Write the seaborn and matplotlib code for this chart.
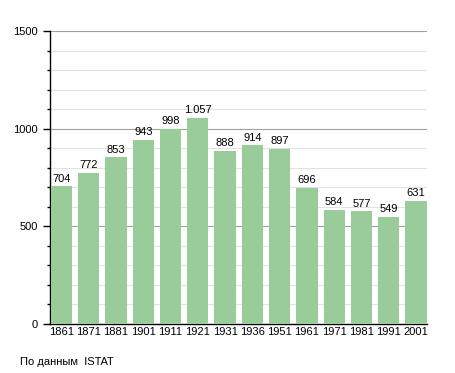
import matplotlib
matplotlib.use("Agg")
import matplotlib.pyplot as plt
import seaborn as sns
import pandas as pd
from matplotlib.ticker import MultipleLocator

# =========================
# DATA
# =========================
years = ["1861", "1871", "1881", "1901", "1911", "1921", "1931",
         "1936", "1951", "1961", "1971", "1981", "1991", "2001"]
population = [704, 772, 853, 943, 998, 1057, 888, 914, 897, 696, 584, 577, 549, 631]
labels = ["704", "772", "853", "943", "998", "1.057", "888", "914", "897",
          "696", "584", "577", "549", "631"]

df = pd.DataFrame({"year": years, "pop": population})

# =========================
# PLOT
# =========================
sns.set_style("white")
plt.rcParams["font.family"] = ["Liberation Sans", "DejaVu Sans"]
plt.rcParams["text.color"] = "black"
plt.rcParams["xtick.color"] = "black"
plt.rcParams["ytick.color"] = "black"

fig = plt.figure(figsize=(4.55, 3.73), dpi=100)
ax = fig.add_axes([50 / 455, 1 - 324 / 373, 377 / 455, 293 / 373])

sns.barplot(x="year", y="pop", data=df, color="#99cc99", width=0.78,
            saturation=1, ax=ax, zorder=3, edgecolor="none")

ax.bar_label(ax.containers[0], labels=labels, padding=2, fontsize=8,
             color="black")

ax.set_ylim(0, 1500)
ax.set_xlim(-0.42, 13.4)
ax.yaxis.set_major_locator(MultipleLocator(500))
ax.yaxis.set_minor_locator(MultipleLocator(100))
ax.set_axisbelow(True)
ax.grid(axis="y", which="major", color="#a0a0a0", linewidth=0.8, zorder=0)
ax.grid(axis="y", which="minor", color="#e2e2e2", linewidth=0.8, zorder=0)

for s in ["top", "right"]:
    ax.spines[s].set_visible(False)
for s in ["left", "bottom"]:
    ax.spines[s].set_color("black")
    ax.spines[s].set_linewidth(1)

ax.tick_params(axis="y", which="major", length=5, width=1, left=True,
               labelsize=8, pad=4, labelcolor="black")
ax.tick_params(axis="y", which="minor", length=2.5, width=1, left=True)
ax.tick_params(axis="x", length=0, labelsize=8, pad=2, labelcolor="black")
ax.set_xlabel("")
ax.set_ylabel("")

fig.text(20 / 455, 1 - 362 / 373, "По данным  ISTAT", fontsize=8, va="center")

fig.savefig("out.png", dpi=100)
